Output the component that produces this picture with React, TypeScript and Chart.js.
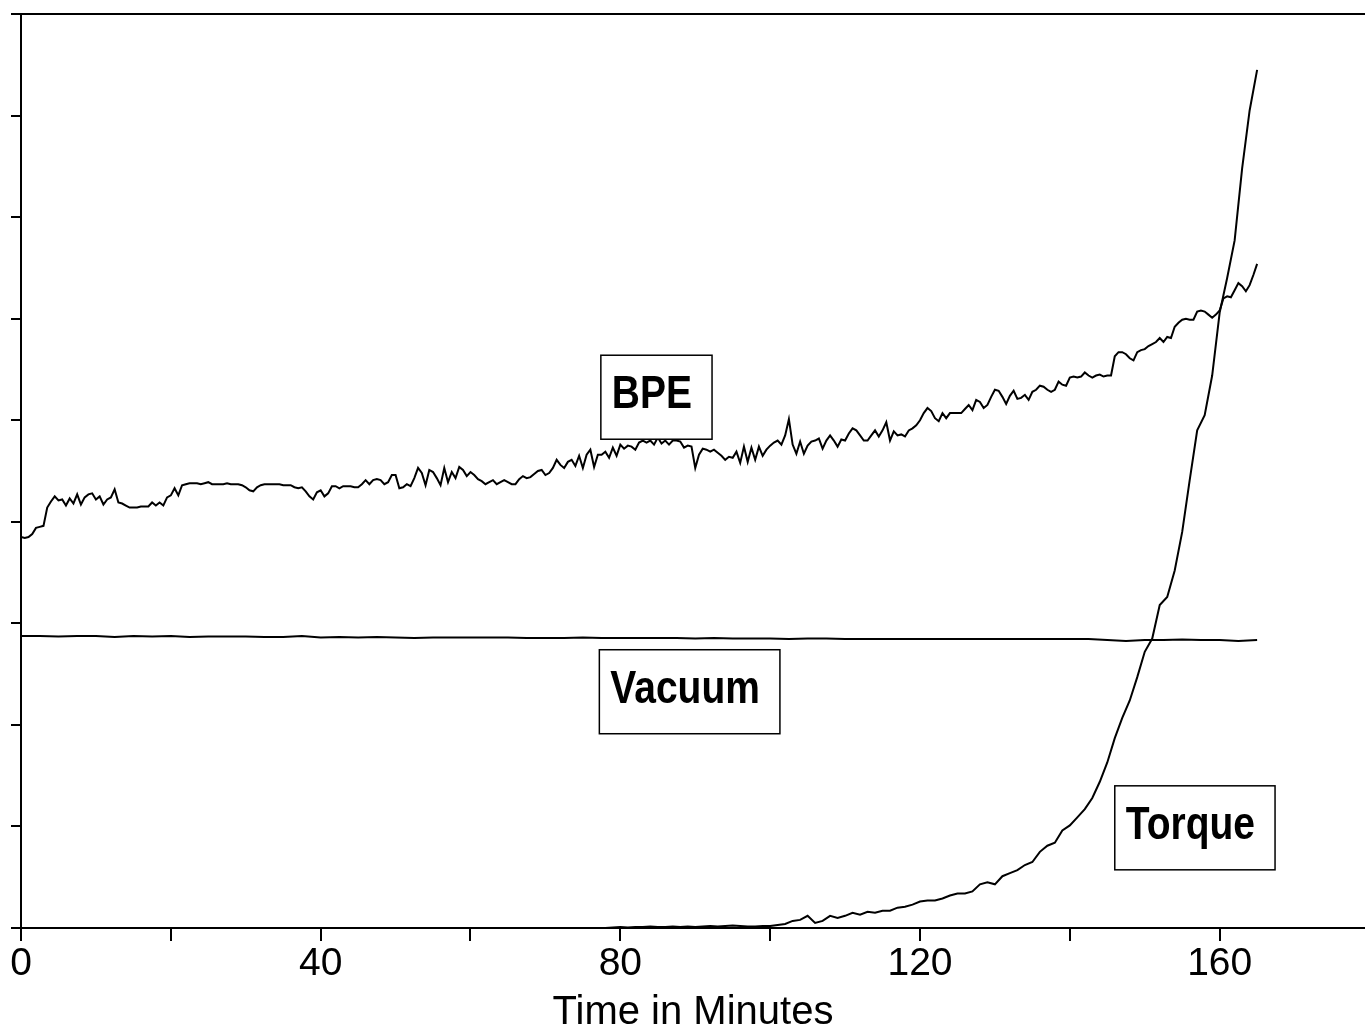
import { useEffect, useRef } from "react";
import { Chart, registerables } from "chart.js";

Chart.register(...registerables);

const FONT = '"Liberation Sans", Arial, Helvetica, sans-serif';

// x axis (minutes)
const X_MIN = 0;
const X_MAX = 179.4;
const X_STEP = 20;
const xTickLabels = [0, 40, 80, 120, 160];
const xTitle = "Time in Minutes";

// y axis (unlabelled, arbitrary units)
const Y_MIN = 0;
const Y_MAX = 90;
const Y_STEP = 10;

// BPE: sampled every 0.5 min from 0 to 165
const bpeStart = 0;
const bpeStep = 0.5;
const bpeValues = [
  38.5, 38.4, 38.5, 38.8, 39.4, 39.5, 39.6, 41.4, 42.0, 42.5, 42.1, 42.2, 41.6, 42.3, 41.8, 42.7, 41.7, 42.4, 42.7, 42.8,
  42.2, 42.5, 41.7, 42.2, 42.4, 43.2, 41.9, 41.8, 41.6, 41.4, 41.4, 41.4, 41.5, 41.5, 41.5, 41.9, 41.6, 41.9, 41.6, 42.4,
  42.6, 43.3, 42.6, 43.6, 43.7, 43.8, 43.8, 43.8, 43.7, 43.8, 43.9, 43.7, 43.7, 43.7, 43.7, 43.8, 43.7, 43.7, 43.7, 43.6,
  43.4, 43.1, 43.0, 43.4, 43.6, 43.7, 43.7, 43.7, 43.7, 43.7, 43.6, 43.6, 43.6, 43.4, 43.3, 43.4, 43.0, 42.5, 42.2, 42.9,
  43.1, 42.5, 42.8, 43.5, 43.5, 43.3, 43.5, 43.5, 43.5, 43.4, 43.4, 43.7, 44.1, 43.7, 44.1, 44.2, 44.1, 43.7, 43.9, 44.6,
  44.6, 43.3, 43.4, 43.7, 43.5, 44.3, 45.3, 44.8, 43.6, 45.1, 44.9, 44.3, 43.6, 45.3, 43.9, 44.9, 44.3, 45.4, 45.1, 44.5,
  44.9, 44.6, 44.2, 44.0, 43.7, 43.9, 44.1, 43.7, 43.9, 44.1, 43.9, 43.7, 43.7, 44.2, 44.5, 44.3, 44.4, 44.7, 45.0, 45.1,
  44.6, 44.8, 45.3, 46.1, 45.6, 45.3, 45.9, 46.1, 45.5, 46.5, 45.3, 46.6, 47.1, 45.4, 46.6, 46.6, 46.9, 46.3, 47.3, 46.5,
  47.6, 47.2, 47.5, 47.4, 47.1, 47.8, 48.0, 47.8, 48.0, 47.6, 48.3, 47.7, 48.0, 47.6, 48.0, 48.0, 47.9, 47.3, 47.5, 47.4,
  45.3, 46.6, 47.2, 47.1, 46.9, 47.1, 46.8, 46.5, 46.1, 46.4, 46.3, 46.9, 45.8, 47.4, 45.9, 47.3, 46.1, 47.4, 46.5, 47.1,
  47.5, 47.8, 48.0, 47.6, 48.5, 50.1, 47.6, 46.7, 47.9, 46.7, 47.5, 47.9, 48.0, 48.2, 47.2, 48.0, 48.5, 48.0, 47.4, 48.1,
  48.0, 48.7, 49.2, 49.0, 48.5, 48.0, 48.0, 48.5, 49.0, 48.4, 49.0, 49.8, 48.0, 48.9, 48.5, 48.6, 48.4, 49.0, 49.2, 49.5,
  50.0, 50.7, 51.2, 50.9, 50.2, 49.9, 50.7, 50.2, 50.7, 50.7, 50.7, 50.7, 51.1, 51.5, 51.0, 52.0, 51.8, 51.2, 51.5, 52.3,
  53.0, 52.9, 52.3, 51.6, 52.4, 52.9, 52.1, 52.2, 52.5, 52.0, 52.8, 53.0, 53.4, 53.3, 53.0, 52.8, 53.0, 53.8, 53.5, 53.4,
  54.2, 54.3, 54.2, 54.3, 54.7, 54.4, 54.2, 54.4, 54.5, 54.3, 54.4, 54.4, 56.3, 56.7, 56.7, 56.5, 56.1, 55.9, 56.7, 56.9,
  57.0, 57.3, 57.5, 57.7, 58.1, 57.7, 58.2, 58.1, 59.2, 59.6, 59.9, 60.0, 59.9, 59.9, 60.7, 60.8, 60.7, 60.4, 60.1, 60.4,
  60.8, 62.0, 62.2, 62.1, 62.8, 63.5, 63.2, 62.7, 63.3, 64.3, 65.4,
];

// Vacuum: sampled every 2.5 min from 0 to 165
const vacuumStart = 0;
const vacuumStep = 2.5;
const vacuumValues = [
  28.75, 28.75, 28.7, 28.75, 28.75, 28.65, 28.75, 28.7, 28.75, 28.65, 28.7, 28.7, 28.7, 28.65, 28.65, 28.75, 28.6, 28.65,
  28.6, 28.65, 28.6, 28.55, 28.6, 28.6, 28.6, 28.6, 28.6, 28.55, 28.55, 28.55, 28.6, 28.55, 28.55, 28.55, 28.55, 28.55,
  28.5, 28.55, 28.5, 28.5, 28.5, 28.45, 28.5, 28.5, 28.45, 28.45, 28.45, 28.45, 28.45, 28.45, 28.45, 28.45, 28.45, 28.45,
  28.45, 28.45, 28.45, 28.45, 28.36, 28.26, 28.36, 28.36, 28.4, 28.36, 28.36, 28.26, 28.36,
];

// Torque: sampled every 1 min from 78 to 165
const torqueStart = 78;
const torqueStep = 1;
const torqueValues = [
  0, 0.05, 0.1, 0.05, 0.1, 0.1, 0.15, 0.1, 0.1, 0.15,
  0.1, 0.15, 0.1, 0.15, 0.2, 0.15, 0.2, 0.25, 0.2, 0.15,
  0.15, 0.2, 0.2, 0.3, 0.4, 0.7, 0.8, 1.2, 0.5, 0.7,
  1.2, 1.0, 1.2, 1.5, 1.3, 1.6, 1.5, 1.7, 1.7, 2.0,
  2.1, 2.3, 2.6, 2.7, 2.7, 2.9, 3.2, 3.4, 3.4, 3.6,
  4.3, 4.5, 4.3, 5.1, 5.4, 5.7, 6.2, 6.5, 7.5, 8.1,
  8.4, 9.6, 10.1, 10.9, 11.7, 12.8, 14.4, 16.3, 18.7, 20.7,
  22.4, 24.7, 27.2, 28.5, 31.8, 32.6, 35.2, 39.0, 44.1, 49.0,
  50.5, 54.4, 60.6, 64.0, 67.7, 74.8, 80.5, 84.5,
];

// Boxed series labels, anchored at their top-left corner in data units
const boxLabels = [
  { text: "BPE", x: 77.4, y: 56.4 },
  { text: "Vacuum", x: 77.2, y: 27.4 },
  { text: "Torque", x: 146.0, y: 14.0 },
];

const toPoints = (start: number, step: number, values: number[]) =>
  values.map((v, i) => ({ x: start + i * step, y: v }));

const boxLabelPlugin = {
  id: "boxLabels",
  afterDatasetsDraw(chart: any) {
    const { ctx, scales } = chart;
    ctx.save();
    ctx.font = `bold 39px ${FONT}`;
    ctx.textBaseline = "alphabetic";
    ctx.textAlign = "left";
    for (const lab of boxLabels) {
      const left = scales.x.getPixelForValue(lab.x);
      const top = scales.y.getPixelForValue(lab.y);
      const w = ctx.measureText(lab.text).width + 31;
      const h = 84;
      ctx.fillStyle = "#fff";
      ctx.fillRect(left, top, w, h);
      ctx.strokeStyle = "#000";
      ctx.lineWidth = 1.5;
      ctx.strokeRect(left, top, w, h);
      ctx.save();
      ctx.translate(left + 11, top + 53);
      ctx.scale(1, 1.18);
      ctx.fillStyle = "#000";
      ctx.fillText(lab.text, 0, 0);
      ctx.restore();
    }
    ctx.restore();
  },
};

export default function App() {
  const canvasRef = useRef<HTMLCanvasElement | null>(null);

  useEffect(() => {
    if (!canvasRef.current) return;
    const lineStyle = {
      borderColor: "#000",
      borderWidth: 2,
      pointRadius: 0,
      tension: 0,
      fill: false,
    };
    const chart = new Chart(canvasRef.current, {
      type: "line",
      data: {
        datasets: [
          { label: "BPE", data: toPoints(bpeStart, bpeStep, bpeValues), ...lineStyle },
          { label: "Vacuum", data: toPoints(vacuumStart, vacuumStep, vacuumValues), ...lineStyle },
          { label: "Torque", data: toPoints(torqueStart, torqueStep, torqueValues), ...lineStyle },
        ],
      },
      options: {
        animation: false,
        responsive: false,
        devicePixelRatio: 1,
        layout: { padding: 0 },
        plugins: {
          legend: { display: false },
          tooltip: { enabled: false },
        },
        scales: {
          x: {
            type: "linear",
            position: "bottom",
            min: X_MIN,
            max: X_MAX,
            ticks: {
              stepSize: X_STEP,
              includeBounds: false,
              autoSkip: false,
              maxRotation: 0,
              color: "#000",
              padding: 0,
              font: { family: FONT, size: 39 },
              callback: (v: any) => (xTickLabels.includes(Number(v)) ? String(v) : ""),
            },
            grid: {
              drawOnChartArea: false,
              drawTicks: true,
              tickLength: 13,
              color: "#000",
              lineWidth: 2,
            },
            border: { display: true, color: "#000", width: 2 },
            title: {
              display: true,
              text: xTitle,
              color: "#000",
              font: { family: FONT, size: 40, lineHeight: 1 },
              padding: { top: 0, bottom: -3 },
            },
            afterFit: (s: any) => {
              s.height = 102;
            },
          },
          x2: {
            type: "linear",
            position: "top",
            min: X_MIN,
            max: X_MAX,
            display: true,
            ticks: { display: false },
            grid: { display: false },
            border: { display: true, color: "#000", width: 2 },
            afterFit: (s: any) => {
              s.height = 14;
            },
          },
          y: {
            type: "linear",
            min: Y_MIN,
            max: Y_MAX,
            ticks: { stepSize: Y_STEP, display: false },
            grid: {
              drawOnChartArea: false,
              drawTicks: true,
              tickLength: 10,
              color: "#000",
              lineWidth: 2,
            },
            border: { display: true, color: "#000", width: 2 },
            afterFit: (s: any) => {
              s.width = 21;
            },
          },
        },
      } as any,
      plugins: [boxLabelPlugin],
    });
    return () => chart.destroy();
  }, []);

  return (
    <div style={{ position: "absolute", left: 0, top: 0, width: 1365, height: 1030, background: "#fff" }}>
      <canvas ref={canvasRef} width={1365} height={1030} style={{ display: "block" }} />
    </div>
  );
}
